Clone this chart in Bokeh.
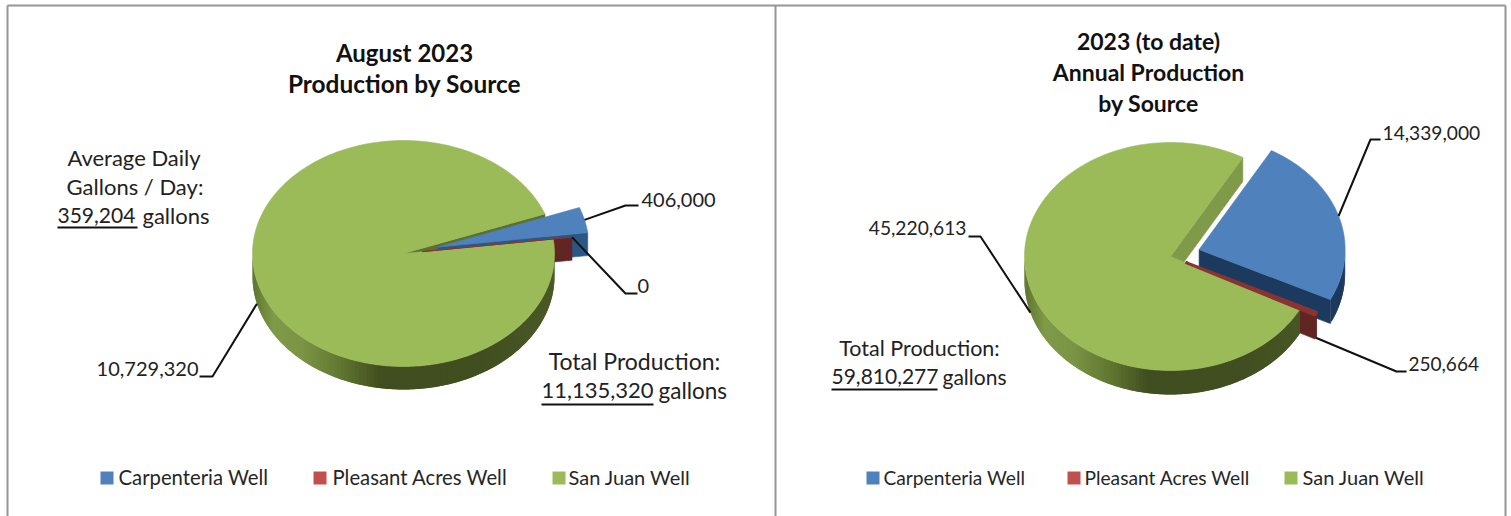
import numpy as np
from bokeh.core.properties import value
from bokeh.embed import file_html
from bokeh.models import Range1d
from bokeh.plotting import figure
from bokeh.resources import INLINE

# Production figures, gallons
sources = ["Carpenteria Well", "Pleasant Acres Well", "San Juan Well"]
august_values = [406000, 0, 10729320]
ytd_values = [14339000, 250664, 45220613]
average_daily = 359204

BLUE, RED, GREEN = "#4f81bd", "#c0504d", "#9bbb59"
FONT = value("Lato")
INK = "#222222"

p = figure(width=1511, height=516, output_backend="svg", toolbar_location=None,
           x_range=Range1d(0, 1511), y_range=Range1d(516, 0),
           min_border=0, outline_line_color=None, background_fill_color="white")
p.axis.visible = False
p.grid.visible = False


def hex_mix(a, b, f):
    ca = [int(a[i:i + 2], 16) for i in (1, 3, 5)]
    cb = [int(b[i:i + 2], 16) for i in (1, 3, 5)]
    return "#%02x%02x%02x" % tuple(round(x + (y - x) * f) for x, y in zip(ca, cb))


# Sheen across the side of the disc, left to right
SHEEN_STOPS = [0.0, 0.07, 0.17, 0.30, 0.42, 0.75, 1.0]
SHEEN_COLORS = ["#5f752f", "#7f9a48", "#7a9444", "#5f752f", "#414e20", "#414e20", "#4a5a26"]


def sheen(f):
    f = min(max(f, 0.0), 1.0)
    i = min(np.searchsorted(SHEEN_STOPS, f, side="right") - 1, len(SHEEN_STOPS) - 2)
    u = (f - SHEEN_STOPS[i]) / (SHEEN_STOPS[i + 1] - SHEEN_STOPS[i])
    return hex_mix(SHEEN_COLORS[i], SHEEN_COLORS[i + 1], u)


def poly(xs, ys, color, stroke=0.6, stroke_color=None):
    p.patch(list(xs), list(ys), fill_color=color,
            line_color=stroke_color or color if stroke else None, line_width=stroke or 1)


def draw_pie(values, cx, cy, rx, ry, depth, start, explode, blue_wall, green_cut,
             red_stroke, label_elbows, label_drops):
    total = sum(values)
    spans = [v / total * 360 for v in values]
    t0 = start
    slices = []
    for span, ex in zip(spans, explode):
        t1 = t0 - span
        mid = np.radians((t0 + t1) / 2)
        slices.append(dict(t0=t0, t1=t1, mid=mid,
                           dx=ex * rx * np.cos(mid), dy=-ex * ry * np.sin(mid)))
        t0 = t1

    def pt(s, deg):
        r = np.radians(deg)
        return cx + s["dx"] + rx * np.cos(r), cy + s["dy"] - ry * np.sin(r)

    def cut_wall(s, deg, color):
        ax, ay = cx + s["dx"], cy + s["dy"]
        x, y = pt(s, deg)
        poly([ax, x, x, ax], [ay, y, y + depth, ay + depth], color)

    def rim_wall(s, color):
        # Only the near half of the rim shows; each band laps the next to hide seams
        lo, hi = max(min(s["t0"], s["t1"]), -180), min(max(s["t0"], s["t1"]), 0)
        if hi <= lo:
            return
        ts = np.linspace(lo, hi, int((hi - lo) / 1.5) + 2)
        step = ts[1] - ts[0]
        for a in ts[:-1]:
            b = min(a + 2 * step, hi)
            mids = np.linspace(a, b, 4)
            xy = [pt(s, t) for t in mids]
            xs = [q[0] for q in xy]
            ys = [q[1] for q in xy]
            c = color or sheen((pt(s, a + step / 2)[0] - (cx - rx)) / (2 * rx))
            poly(xs + xs[::-1], ys + [y + depth for y in ys[::-1]], c, stroke=0)

    def top(s, color, stroke=0.6):
        ts = np.linspace(s["t0"], s["t1"], max(2, int(abs(s["t1"] - s["t0"]) / 1.5) + 2))
        xy = [pt(s, t) for t in ts]
        poly([cx + s["dx"]] + [q[0] for q in xy], [cy + s["dy"]] + [q[1] for q in xy], color, stroke)

    blue, red, green = slices
    # Back to front: far cut of the large slice, then the pulled-out slices, then the body
    cut_wall(green, green["t1"], green_cut)
    cut_wall(blue, blue["t1"], blue_wall)
    rim_wall(blue, blue_wall)
    top(blue, BLUE)
    cut_wall(red, red["t1"], "#632523")
    rim_wall(red, "#632523")
    rim_wall(green, None)
    top(green, GREEN)
    top(red, "#8b3330", red_stroke)

    # Leader lines start on the rim at each slice's middle
    for s, elbow, drop in zip(slices, label_elbows, label_drops):
        x, y = pt(s, np.degrees(s["mid"]))
        p.line([x, elbow[0], elbow[1]], [y + drop * depth, elbow[2], elbow[2]],
               line_color="#111111", line_width=2)


def text(x, y, s, size=21.0, align="left", bold=False, color=INK):
    p.text([x], [y - 1.5], text=[s], text_font=FONT, text_font_size=f"{size}px",
           text_align=align, text_baseline="middle", text_color=color,
           text_font_style="bold" if bold else "normal")


def underline(x0, x1, y):
    p.line([x0, x1], [y, y], line_color="#111111", line_width=2)


def legend(squares, labels_x, sizes):
    for name, color, sx, lx, size in zip(sources, [BLUE, RED, GREEN], squares, labels_x, sizes):
        p.quad(left=sx, right=sx + 13, top=471, bottom=484, fill_color=color, line_color=None)
        text(lx, 478, name, size=size, color="#262626")


# Panel frame
for xs, ys in [([7, 1505], [5, 5]), ([7, 7], [5, 516]), ([775, 775], [5, 516]), ([1505, 1505], [5, 516])]:
    p.line(xs, ys, line_color="#969696", line_width=2)

# August panel
draw_pie(august_values, 403, 253, 151, 113, 23, 20.5, [0.235, 0.125, 0.0], "#2b5785", "#5a7030", 1,
         [(625, 638, 205), (625, 637, 293), (212, 199, 376)], [0, 0, 1])
text(404, 53, "August 2023", size=24, align="center", bold=True, color="#111111")
text(404, 84, "Production by Source", size=24.4, align="center", bold=True, color="#111111")
text(133.5, 158, "Average Daily", size=22, align="center")
text(134.5, 187, "Gallons / Day:", size=22, align="center")
text(57, 216, f"{average_daily:,}")
underline(57, 137, 227)
text(142, 216, "gallons", size=22)
text(641, 201, f"{august_values[0]:,}", size=20)
text(637, 287, f"{august_values[1]:,}", size=20)
text(198, 370, f"{august_values[2]:,}", size=20, align="right")
text(634, 362, "Total Production:", size=23, align="center")
text(541, 391, f"{sum(august_values):,}", size=22)
underline(541, 653, 404)
text(658, 391, "gallons", size=22.5)
legend([100, 313, 552], [118, 332, 568], [20.3, 20.3, 20])

# Year-to-date panel
draw_pie(ytd_values, 1170, 256, 146, 114, 24, 60.3, [0.205, 0.115, 0.0], "#1c3a5e", "#7f9a48", 3,
         [(1370, 1380, 139), (1396, 1406, 371), (980, 968, 236)], [0, 1, 1])
text(1148, 42, "2023 (to date)", size=23, align="center", bold=True, color="#111111")
text(1148, 73, "Annual Production", size=23, align="center", bold=True, color="#111111")
text(1148, 104, "by Source", size=23, align="center", bold=True, color="#111111")
text(1382, 134, f"{ytd_values[0]:,}", size=19.2)
text(1408, 365, f"{ytd_values[1]:,}", size=19)
text(966, 229, f"{ytd_values[2]:,}", size=19.2, align="right")
text(919, 349, "Total Production:", size=21.5, align="center")
text(831, 377, f"{sum(ytd_values):,}")
underline(831, 937, 389)
text(942, 377, "gallons")
legend([866, 1067, 1284], [883, 1084, 1302], [19.2, 19.2, 20])

open("out.html", "w").write(file_html(p, INLINE))
